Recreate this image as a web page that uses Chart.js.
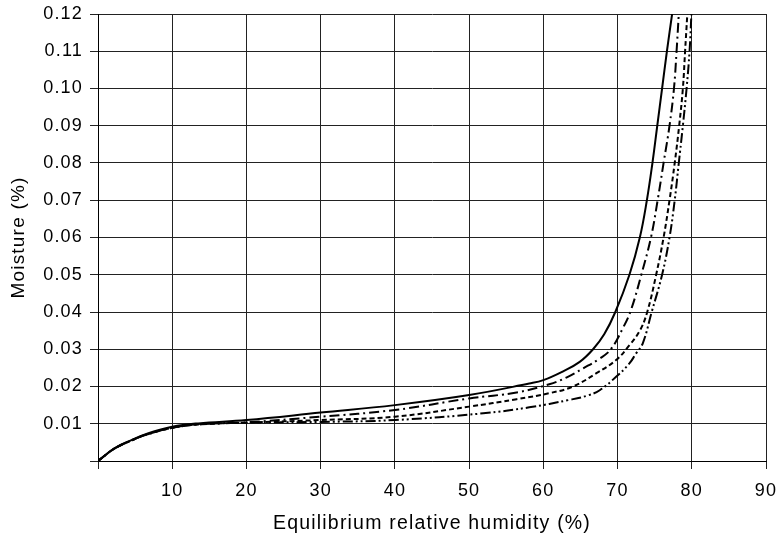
<!DOCTYPE html>
<html>
<head>
<meta charset="utf-8">
<script src="https://cdn.jsdelivr.net/npm/chart.js@4/dist/chart.umd.min.js"></script>
<style>
  html, body { margin: 0; padding: 0; background: #fff; }
  #wrap { width: 779px; height: 534px; }
</style>
</head>
<body>
<div id="wrap"><canvas id="moistureChart" width="779" height="534"></canvas></div>
<script>
// curves (x = ERH %, y = moisture %)
var solid_x = [0, 2.2, 4.5, 6.7, 10, 13.5, 20, 30, 40, 50, 58.1, 60, 62.6, 64.9, 66.7, 68.2, 69.7, 71.6, 73.0, 73.95, 74.7, 75.35, 76.0, 76.65, 77.35];
var solid_y = [0, 0.0034, 0.0056, 0.0074, 0.0092, 0.0101, 0.011, 0.013, 0.015, 0.0177, 0.0208, 0.0217, 0.024, 0.0266, 0.030, 0.034, 0.040, 0.050, 0.060, 0.070, 0.080, 0.090, 0.100, 0.110, 0.120];

var dashdot_x = [0, 2.2, 4.5, 6.7, 10, 13.5, 20, 30, 40, 50, 56.4, 60.8, 63.1, 65.3, 67.6, 69.1, 70.7, 71.8, 73.2, 74.5, 75.4, 76.2, 77.0, 77.6, 77.95, 78.25];
var dashdot_y = [0, 0.0033, 0.0055, 0.0072, 0.0089, 0.0099, 0.0104, 0.0119, 0.0137, 0.0168, 0.0184, 0.0206, 0.0224, 0.0248, 0.0275, 0.030, 0.0356, 0.0405, 0.050, 0.060, 0.070, 0.080, 0.090, 0.100, 0.110, 0.120];

var dashed_x = [0, 2.2, 4.5, 6.7, 10, 13.5, 20, 30, 40, 50, 56.4, 60.8, 64.0, 67.1, 69.8, 71.6, 73.0, 74.0, 75.2, 76.2, 77.0, 77.7, 78.3, 78.8, 79.1, 79.4];
var dashed_y = [0, 0.0033, 0.0055, 0.0072, 0.0089, 0.0098, 0.0103, 0.011, 0.0119, 0.0146, 0.0166, 0.0182, 0.020, 0.0235, 0.0271, 0.0311, 0.035, 0.040, 0.050, 0.060, 0.070, 0.080, 0.090, 0.100, 0.110, 0.120];

var dashdotdot_x = [0, 2.2, 4.5, 6.7, 10, 13.5, 20, 30, 40, 51.9, 58.1, 63.5, 66.0, 67.6, 69.8, 71.6, 72.5, 73.4, 74.6, 76.0, 77.0, 77.7, 78.25, 78.8, 79.3, 79.7, 79.95];
var dashdotdot_y = [0, 0.0033, 0.0055, 0.0072, 0.0089, 0.0098, 0.0103, 0.0105, 0.011, 0.0128, 0.0144, 0.0164, 0.0176, 0.019, 0.0226, 0.0262, 0.0289, 0.0316, 0.040, 0.050, 0.060, 0.070, 0.080, 0.090, 0.100, 0.110, 0.120];

var x_ticks = [10, 20, 30, 40, 50, 60, 70, 80, 90];
var y_ticks = [0.01, 0.02, 0.03, 0.04, 0.05, 0.06, 0.07, 0.08, 0.09, 0.10, 0.11, 0.12];

function pts(xs, ys) {
    return xs.map(function (x, i) { return { x: x, y: ys[i] }; });
}

function curve(xs, ys, dash) {
    return {
        data: pts(xs, ys),
        borderColor: '#000',
        borderWidth: 2,
        borderDash: dash,
        pointRadius: 0,
        fill: false,
        tension: 0.4,
    };
}

// the original text is a bit more spread out than Liberation Sans
var spacing = {
    id: 'spacing',
    beforeUpdate: function (chart) { chart.ctx.letterSpacing = '1.2px'; },
    beforeDraw: function (chart) { chart.ctx.letterSpacing = '1.2px'; },
};

var ctx = document.getElementById('moistureChart');
var chart = new Chart(ctx, {
    type: 'line',
    data: {
        datasets: [
            curve(solid_x, solid_y, []),
            curve(dashdot_x, dashdot_y, [10, 4, 2, 4]),
            curve(dashed_x, dashed_y, [5, 3]),
            curve(dashdotdot_x, dashdotdot_y, [10, 3, 2, 3, 2, 3]),
        ]
    },
    plugins: [spacing],
    options: {
        responsive: false,
        animation: false,
        layout: { padding: { top: 14, right: 13, left: 0, bottom: 0 } },
        plugins: {
            legend: { display: false },
            tooltip: { enabled: false },
        },
        scales: {
            x: {
                type: 'linear',
                min: 0,
                max: 90,
                afterBuildTicks: function (axis) {
                    axis.ticks = [0].concat(x_ticks).map(function (v) { return { value: v }; });
                },
                afterFit: function (axis) {
                    axis.height = 73;
                    axis.paddingLeft = 0;
                    axis.paddingRight = 0;
                },
                ticks: {
                    color: '#000',
                    font: { family: 'Liberation Sans, Arial', size: 18 },
                    padding: 11,
                    maxRotation: 0,
                    callback: function (v) { return v === 0 ? '' : v; },
                },
                grid: { color: '#222', lineWidth: 1, tickLength: 8 },
                border: { color: '#000', width: 1 },
                title: {
                    display: true,
                    text: 'Equilibrium relative humidity (%)',
                    color: '#000',
                    font: { family: 'Liberation Sans, Arial', size: 19.5, lineHeight: 1.0 },
                    padding: { top: 0, bottom: 1 },
                },
            },
            y: {
                type: 'linear',
                min: 0,
                max: 0.12,
                afterBuildTicks: function (axis) {
                    axis.ticks = [0].concat(y_ticks).map(function (v) { return { value: v }; });
                },
                afterFit: function (axis) {
                    axis.width = 98;
                    axis.paddingTop = 0;
                    axis.paddingBottom = 0;
                },
                ticks: {
                    color: '#000',
                    font: { family: 'Liberation Sans, Arial', size: 18 },
                    padding: 7,
                    callback: function (v) { return v === 0 ? '' : v.toFixed(2); },
                },
                grid: { color: '#222', lineWidth: 1, tickLength: 8 },
                border: { color: '#000', width: 1 },
                title: {
                    display: true,
                    text: 'Moisture (%)',
                    color: '#000',
                    font: { family: 'Liberation Sans, Arial', size: 19 },
                    padding: { top: 7, bottom: 0 },
                },
            }
        }
    }
});
</script>
</body>
</html>
